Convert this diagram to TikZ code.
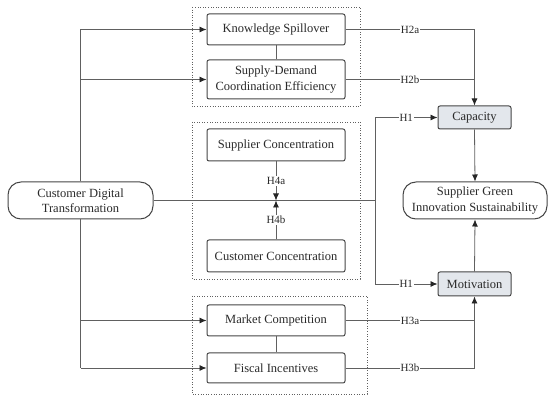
\documentclass[tikz,border=0pt]{standalone}
\usepackage{fontspec}
\setmainfont{Liberation Serif}
\usetikzlibrary{arrows.meta}
\definecolor{boxc}{HTML}{454545}
\definecolor{linec}{HTML}{606060}
\definecolor{txtc}{HTML}{2A2A2A}
\definecolor{capfill}{HTML}{E3E7EC}
\begin{document}
\begin{tikzpicture}[x=1pt,y=-1pt,
  box/.style={draw=boxc, line width=1pt, rounded corners=2pt, minimum width=138pt,
    font=\fontsize{12.5}{15.5}\selectfont, text=txtc, align=center, inner sep=0pt},
  rbox/.style={box, rounded corners=13pt, minimum width=145pt, minimum height=37pt},
  gbox/.style={box, fill=capfill, minimum width=73pt},
  ln/.style={draw=linec, line width=0.8pt},
  arr/.style={ln, -{Latex[length=7pt,width=6pt,color=black!85]}},
  lab/.style={fill=white, inner sep=1pt, text=txtc, font=\fontsize{11}{13}\selectfont},
  grp/.style={draw=linec, dotted, line width=0.6pt}]
\useasboundingbox (0,0) rectangle (550,401);
% groups
\draw[grp] (192,7) rectangle (360,106);
\draw[grp] (192,122) rectangle (360,279);
\draw[grp] (192,296) rectangle (367,394);
% nodes
\node[box, minimum height=31pt] (KS) at (276,29.5) {Knowledge Spillover};
\node[box, minimum height=39pt] (SD) at (276,79.5) {Supply-Demand\\Coordination Efficiency};
\node[box, minimum height=32pt] (SC) at (276,145) {Supplier Concentration};
\node[box, minimum height=32pt] (CC) at (276,256) {Customer Concentration};
\node[box, minimum height=31pt] (MC) at (276,320.5) {Market Competition};
\node[box, minimum height=30pt] (FI) at (276,368) {Fiscal Incentives};
\node[rbox] (CDT) at (80.5,200.5) {Customer Digital\\Transformation};
\node[rbox, minimum width=144pt] (SG) at (475,200.5) {Supplier Green\\Innovation Sustainability};
\node[gbox, minimum height=23pt] (CAP) at (474.5,117.5) {Capacity};
\node[gbox, minimum height=24pt] (MOT) at (474.5,284) {Motivation};
\coordinate (R) at (375,200.5);
% left trunk
\draw[ln] (CDT.north) -- (CDT.north |- KS.west);
\draw[arr] (CDT.north |- KS.west) -- (KS.west);
\draw[arr] (CDT.north |- SD.west) -- (SD.west);
\draw[ln] (CDT.south) -- (CDT.south |- FI.west);
\draw[arr] (CDT.south |- MC.west) -- (MC.west);
\draw[arr] (CDT.south |- FI.west) -- (FI.west);
\draw[ln] (KS.south) -- (SD.north);
\draw[ln] (MC.south) -- (FI.north);
% central line
\draw[ln] (CDT.east) -- (R);
\draw[ln] (R |- CAP.west) -- (R |- MOT.west);
\draw[arr] (R |- CAP.west) -- node[lab]{H1} (CAP.west);
\draw[arr] (R |- MOT.west) -- node[lab]{H1} (MOT.west);
\draw[arr] (SC.south) -- node[lab]{H4a} (SC.south |- CDT.east);
\draw[arr] (CC.north) -- node[lab]{H4b} (CC.north |- CDT.east);
% H2
\draw[arr] (KS.east) -- node[lab]{H2a} (KS.east -| CAP.north) -- (CAP.north);
\draw[ln] (SD.east) -- node[lab]{H2b} (SD.east -| CAP.north);
% H3
\draw[arr] (FI.east) -- node[lab]{H3b} (FI.east -| MOT.south) -- (MOT.south);
\draw[ln] (MC.east) -- node[lab]{H3a} (MC.east -| MOT.south);
% outcomes
\draw[arr] (CAP.south) -- (SG.north);
\draw[arr] (MOT.north) -- (SG.south);
\end{tikzpicture}
\end{document}
